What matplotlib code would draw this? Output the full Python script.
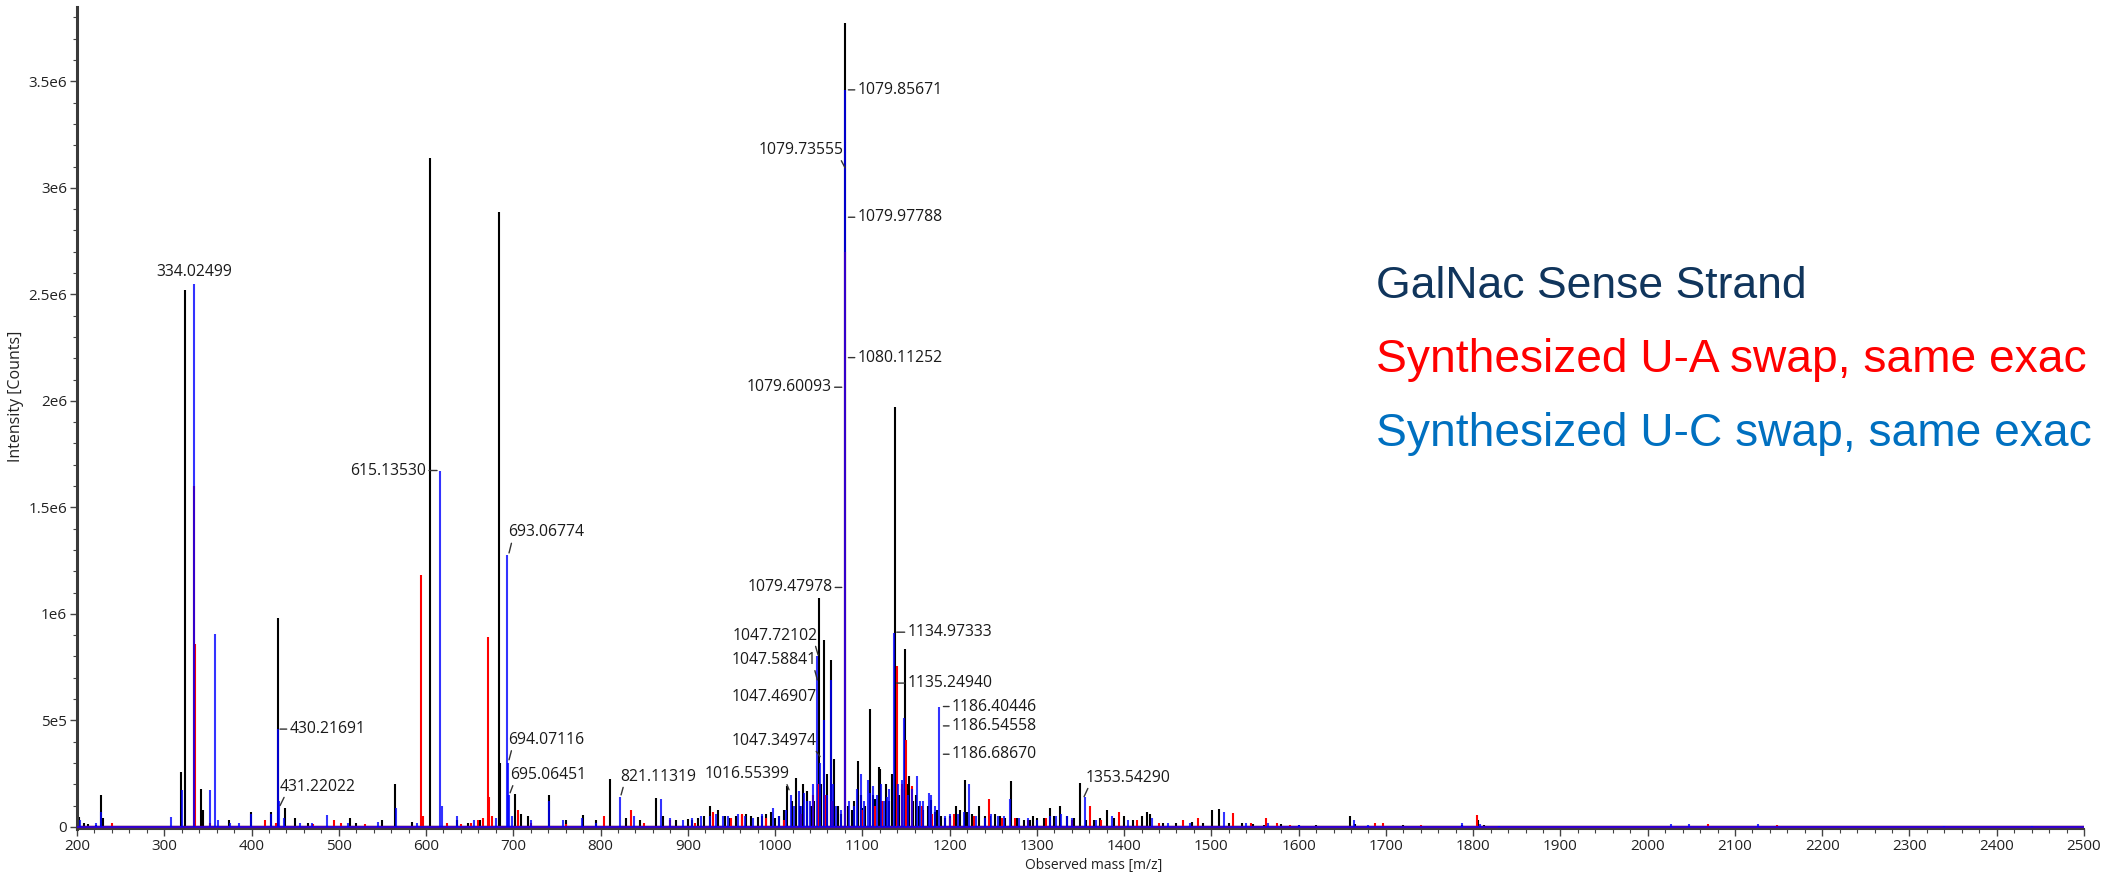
import matplotlib
matplotlib.use("Agg")
import matplotlib.pyplot as plt
from matplotlib.ticker import MultipleLocator, FuncFormatter
import numpy as np

# ---------------- data (m/z, intensity in 1e6 counts) ----------------
sense_mz = [202.6, 208, 213, 222, 227.9, 230, 255, 319.6, 324.2, 342.1, 344, 374, 399.4, 422.3,
            430.7, 438.8, 450, 465, 513, 520, 550, 564.9, 584, 605.0, 636, 648, 662, 683.3, 685,
            702, 709, 717, 741.3, 760, 779.6, 795, 810.9, 829, 845, 863.6, 872, 886, 900, 912,
            925.4, 935, 943, 955, 962, 972, 980, 990, 1005, 1014, 1024.4, 1028, 1032.5, 1037,
            1041, 1045, 1050.4, 1053, 1056.1, 1059, 1063.8, 1068, 1072, 1076, 1080.0, 1084, 1088,
            1094.5, 1098, 1103, 1108.9, 1112, 1118.8, 1120.5, 1127, 1131, 1137.5, 1142, 1148.7,
            1152, 1154, 1158, 1165, 1170, 1175, 1179, 1183, 1190, 1195, 1200, 1207, 1212, 1217.7,
            1226, 1234, 1240, 1252, 1258, 1264, 1270, 1277, 1285, 1292, 1300, 1308, 1315, 1320,
            1327, 1335, 1342, 1349.2, 1356, 1365, 1372, 1380, 1388, 1400, 1410, 1420, 1426.7,
            1430, 1445, 1460, 1478, 1490, 1500.4, 1509, 1520, 1535, 1548, 1560, 1580, 1600, 1620,
            1659, 1665, 1720, 1770, 1787, 1806, 1812, 1850, 1900, 2000, 2100, 2340, 2430,
            905, 918, 948, 967, 985, 995, 1000, 1010, 1019, 1091, 1100, 1115, 1123, 1134, 1145,
            1161, 1168, 1186, 1220, 1246, 1296]
sense_int = [0.046, 0.02, 0.015, 0.01, 0.15, 0.04, 0.005, 0.257, 2.52, 0.18, 0.08, 0.03, 0.069, 0.07,
             0.98, 0.088, 0.04, 0.02, 0.04, 0.02, 0.03, 0.2, 0.025, 3.14, 0.03, 0.02, 0.03, 2.887, 0.3,
             0.153, 0.06, 0.05, 0.15, 0.03, 0.058, 0.03, 0.224, 0.04, 0.03, 0.135, 0.05, 0.03, 0.035, 0.04,
             0.1, 0.08, 0.05, 0.05, 0.055, 0.05, 0.045, 0.06, 0.05, 0.19, 0.23, 0.1, 0.2, 0.17,
             0.1, 0.12, 1.074, 0.2, 0.878, 0.25, 0.784, 0.32, 0.1, 0.06, 3.776, 0.1, 0.08,
             0.307, 0.15, 0.1, 0.553, 0.15, 0.283, 0.27, 0.2, 0.12, 1.973, 0.15, 0.834,
             0.2, 0.24, 0.12, 0.1, 0.08, 0.1, 0.127, 0.07, 0.05, 0.04, 0.05, 0.1, 0.08, 0.22,
             0.06, 0.1, 0.05, 0.06, 0.05, 0.04, 0.215, 0.04, 0.03, 0.03, 0.04, 0.04, 0.09, 0.05,
             0.1, 0.05, 0.04, 0.205, 0.03, 0.03, 0.04, 0.08, 0.04, 0.05, 0.03, 0.05, 0.07,
             0.06, 0.02, 0.02, 0.025, 0.02, 0.08, 0.085, 0.02, 0.02, 0.015, 0.01, 0.015, 0.01, 0.008,
             0.05, 0.015, 0.008, 0.006, 0.01, 0.03, 0.01, 0.005, 0.004, 0.003, 0.003, 0.004, 0.003,
             0.03, 0.05, 0.04, 0.06, 0.05, 0.07, 0.04, 0.08, 0.12, 0.12, 0.09, 0.13, 0.1, 0.25, 0.18,
             0.15, 0.09, 0.08, 0.07, 0.05, 0.05]

ua_mz = [240, 290, 334.0, 335.2, 352, 416, 428, 470, 495, 503, 530, 593.7, 596, 624, 640, 652, 660,
         665, 670.7, 672.5, 676, 705, 720, 760, 804.5, 834.6, 850, 880, 908, 929, 950, 962, 990,
         1010, 1030, 1043, 1049, 1057, 1065, 1080.0, 1100, 1115, 1122, 1139.5, 1145, 1149.5, 1157,
         1168, 1180, 1200, 1205, 1228, 1245, 1260, 1275, 1290, 1310, 1340, 1361, 1374, 1394.5,
         1415, 1440, 1467, 1485, 1525, 1545, 1563, 1575, 1590, 1688, 1697, 1740, 1804.7, 1860,
         2069, 2148, 2380]
ua_int = [0.02, 0.005, 1.6, 0.86, 0.02, 0.03, 0.02, 0.015, 0.03, 0.02, 0.015, 1.183, 0.05, 0.02, 0.015,
          0.02, 0.03, 0.04, 0.89, 0.14, 0.05, 0.08, 0.02, 0.015, 0.05, 0.08, 0.02, 0.03, 0.02, 0.07,
          0.04, 0.06, 0.04, 0.03, 0.06, 0.15, 0.2, 0.15, 0.12, 2.7, 0.08, 0.1, 0.12, 0.753, 0.2, 0.41,
          0.19, 0.1, 0.06, 0.04, 0.06, 0.05, 0.13, 0.04, 0.04, 0.03, 0.04, 0.03, 0.1, 0.03, 0.07,
          0.03, 0.02, 0.03, 0.04, 0.065, 0.02, 0.04, 0.02, 0.01, 0.02, 0.02, 0.008, 0.058, 0.005,
          0.012, 0.01, 0.003]

uc_mz = [203, 222, 227.5, 307.7, 319.8, 334.5, 352.4, 358.5, 362, 375, 386, 399, 422, 430.5, 431.2,
         437, 455, 469, 486.5, 510, 545, 565, 590, 616.0, 618, 636, 655, 680, 693.2, 694.2, 695.2,
         698, 720, 741.3, 757, 779, 795, 822.3, 838, 869.3, 880, 895, 915, 940, 958, 975, 998, 1005,
         1018, 1022, 1027, 1033, 1040, 1048.5, 1051, 1056.1, 1060, 1063.8, 1066, 1070, 1075, 1080.0,
         1085, 1090, 1098, 1102, 1106, 1112, 1117, 1125, 1130, 1136.4, 1141, 1148.2, 1152, 1163,
         1170, 1176, 1179, 1187.6, 1195, 1210, 1222.6, 1230, 1240, 1255, 1269, 1280, 1300, 1315,
         1328, 1340, 1355, 1368, 1386, 1405, 1432, 1450, 1475, 1514, 1540, 1565, 1600, 1664, 1680,
         1787, 1808, 1830, 2027, 2047, 2126, 2340, 2440,
         905, 925, 932, 946, 965, 985, 1012, 1030, 1036, 1044, 1094, 1109, 1121, 1128, 1145, 1157,
         1166, 1183, 1200, 1217, 1248, 1262, 1290, 1322, 1334]
uc_int = [0.03, 0.02, 0.07, 0.044, 0.175, 2.55, 0.175, 0.906, 0.03, 0.02, 0.02, 0.06, 0.06, 0.459, 0.12,
          0.04, 0.02, 0.02, 0.056, 0.02, 0.025, 0.09, 0.02, 1.673, 0.1, 0.05, 0.03, 0.04, 1.277, 0.3, 0.15,
          0.05, 0.03, 0.12, 0.03, 0.04, 0.02, 0.14, 0.05, 0.13, 0.04, 0.03, 0.05, 0.05, 0.06, 0.04, 0.09, 0.05,
          0.15, 0.1, 0.17, 0.16, 0.12, 0.80, 0.3, 0.50, 0.15, 0.69, 0.2, 0.1, 0.08, 3.46,
          0.12, 0.1, 0.25, 0.12, 0.22, 0.19, 0.15, 0.12, 0.18, 0.912, 0.2, 0.51, 0.15, 0.24,
          0.12, 0.16, 0.15, 0.565, 0.05, 0.06, 0.2, 0.05, 0.04, 0.05, 0.13, 0.04, 0.03, 0.05,
          0.06, 0.04, 0.14, 0.03, 0.05, 0.03, 0.04, 0.02, 0.02, 0.07, 0.02, 0.02, 0.01, 0.03, 0.01,
          0.02, 0.015, 0.006, 0.012, 0.015, 0.014, 0.004, 0.004,
          0.04, 0.05, 0.06, 0.05, 0.05, 0.06, 0.08, 0.1, 0.12, 0.2, 0.18, 0.16, 0.2, 0.14, 0.22, 0.18,
          0.12, 0.1, 0.06, 0.07, 0.06, 0.05, 0.04, 0.05, 0.05]

# series names as visible in the reference (cut at the right edge there)
series_names = ["GalNac Sense Strand", "Synthesized U-A swap, same exac",
                "Synthesized U-C swap, same exac"]

# peak labels
label_text = ["334.02499", "430.21691", "431.22022", "615.13530", "693.06774", "694.07116",
              "695.06451", "821.11319", "1016.55399", "1047.34974", "1047.46907", "1047.58841",
              "1047.72102", "1079.47978", "1079.60093", "1080.11252", "1079.97788", "1079.85671",
              "1079.73555", "1134.97333", "1135.24940", "1186.40446", "1186.54558", "1186.68670",
              "1353.54290"]

# ---------------- styling / layout ----------------
W, H = 2105, 876
fig = plt.figure(figsize=(W / 100, H / 100), dpi=100)
ax = fig.add_axes([77 / W, 1 - 829 / H, (2084 - 77) / W, (829 - 7) / H])

colors = ["#000000", "#FF0000", "#0000FF"]
alphas = [1.0, 1.0, 0.8]
all_series = [(sense_mz, sense_int), (ua_mz, ua_int), (uc_mz, uc_int)]
for k, ((mz, inten), c, a) in enumerate(zip(all_series, colors, alphas)):
    y = np.array(inten) * 1e6
    ax.vlines(mz, 0, y, color=c, lw=1.5, alpha=a, zorder=2 + k)
    ax.axhline(0, color=c, lw=1.6, alpha=a, zorder=2 + k)

ax.set_xlim(200, 2500)
ax.set_ylim(-0.01e6, 3.849e6)

for s in ["top", "right"]:
    ax.spines[s].set_visible(False)
ax.spines["left"].set_color("#3a3a3a")
ax.spines["left"].set_linewidth(2.2)
ax.spines["bottom"].set_color("#3a3a3a")
ax.spines["bottom"].set_linewidth(1.5)

ax.xaxis.set_major_locator(MultipleLocator(100))
ax.xaxis.set_minor_locator(MultipleLocator(20))
ax.yaxis.set_major_locator(MultipleLocator(5e5))
ax.yaxis.set_minor_locator(MultipleLocator(1e5))


def yfmt(v, pos):
    if abs(v) < 1:
        return "0"
    if v < 1e6:
        return f"{v / 1e5:g}e5"
    return f"{v / 1e6:g}e6"


ax.yaxis.set_major_formatter(FuncFormatter(yfmt))
ax.tick_params(which="major", length=5, width=1, color="#444444", labelsize=11,
               labelcolor="#222222", pad=2)
ax.tick_params(which="minor", length=3, width=0.8, color="#444444")
for lab in ax.get_xticklabels() + ax.get_yticklabels():
    lab.set_family("Open Sans")

fig.text(16 / W, 1 - 396 / H, "Intensity [Counts]", rotation=90, ha="center", va="center",
         fontsize=11.5, family="Open Sans", color="#222222")
fig.text(1094 / W, 1 - 858 / H, "Observed mass [m/z]", ha="center", va="top",
         fontsize=10, family="Open Sans", color="#222222")

# annotation geometry (leader end and text anchor, in m/z and 1e6 counts)
lab_xy_mz = [None, 432.7, 432.7, 612.6, 695.1, 695.1, 696.3, 823.5, 1016.0, 1051.6, None, 1048.4,
             1049.3, 1076.4, 1076.4, 1084.0, 1084.0, 1084.0, 1080.2, 1139.4, 1139.4, 1192.9,
             1192.9, 1192.9, 1354.1]
lab_xy_I = [None, 0.459, 0.10, 1.673, 1.286, 0.315, 0.16, 0.15, 0.174, 0.33, None, 0.69, 0.807,
            1.124, 2.064, 2.203, 2.862, 3.46, 3.094, 0.914, 0.675, 0.565, 0.474, 0.341, 0.142]
lab_tx_mz = [334.4, 443.5, 431.9, 600.2, 694.3, 694.3, 696.3, 822.4, 1016.3, 1047.7, 1047.7, 1047.7,
             1048.4, 1065.7, 1065.0, 1094.5, 1094.5, 1094.5, 1079.1, 1151.7, 1151.7, 1202.6,
             1202.6, 1202.6, 1356.0]
lab_tx_I = [2.607, 0.459, 0.189, 1.673, 1.382, 0.408, 0.244, 0.236, 0.249, 0.405, 0.609, 0.784,
            0.898, 1.124, 2.064, 2.203, 2.862, 3.46, 3.178, 0.914, 0.675, 0.565, 0.474, 0.341, 0.231]
lab_ha = ["center", "left", "left", "right", "left", "left", "left", "left", "right", "right",
          "right", "right", "right", "right", "right", "left", "left", "left", "right", "left",
          "left", "left", "left", "left", "left"]
lab_rel = [None, (0, 0.5), (0.08, 0), (1, 0.5), (0.05, 0), (0.05, 0), (0.05, 0), (0.05, 0),
           (0.96, 0), (0.97, 0), None, (0.97, 0), (0.97, 0), (1, 0.5), (1, 0.5), (0, 0.5),
           (0, 0.5), (0, 0.5), (0.95, 0), (0, 0.5), (0, 0.5), (0, 0.5), (0, 0.5), (0, 0.5),
           (0.04, 0)]

for t, xm, xi, tm, ti, ha, rel in zip(label_text, lab_xy_mz, lab_xy_I, lab_tx_mz, lab_tx_I,
                                      lab_ha, lab_rel):
    if xm is None:
        ax.text(tm, ti * 1e6, t, ha=ha, va="center", fontsize=11.3, family="Open Sans",
                color="#1a1a1a", zorder=10)
    else:
        ax.annotate(t, xy=(xm, xi * 1e6), xytext=(tm, ti * 1e6), ha=ha, va="center",
                    fontsize=11.3, family="Open Sans", color="#1a1a1a", zorder=10,
                    arrowprops=dict(arrowstyle="-", color="#333333", lw=1.0,
                                    shrinkA=0, shrinkB=0, relpos=rel))

# coloured legend-like text
leg_colors = ["#10355C", "#FF0000", "#0070C0"]
leg_size = [32, 33.2, 33.2]
leg_y = [286, 360, 434]
for name, c, fs, yy in zip(series_names, leg_colors, leg_size, leg_y):
    fig.text(1376 / W, 1 - yy / H, name, color=c, fontsize=fs, va="center", ha="left",
             family="Liberation Sans")

fig.savefig("out.png", dpi=100)
